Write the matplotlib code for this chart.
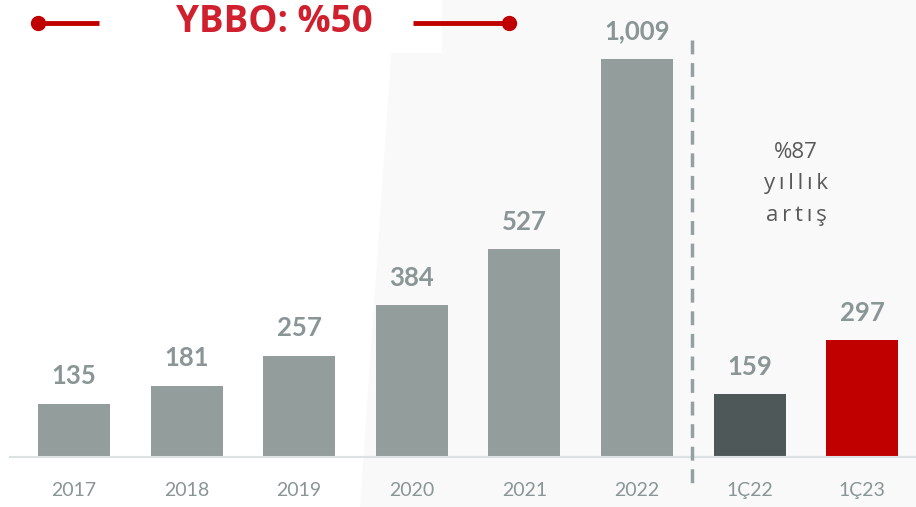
import matplotlib.pyplot as plt
from matplotlib.patches import Polygon, Rectangle

categories = ["2017", "2018", "2019", "2020", "2021", "2022", "1Ç22", "1Ç23"]
values = [135, 181, 257, 384, 527, 1009, 159, 297]
value_labels = ["135", "181", "257", "384", "527", "1,009", "159", "297"]
bar_colors = ["#929d9c"] * 6 + ["#4f5859", "#c00000"]
note_lines = ["%87", "y\u2009ı\u2009l\u2009l\u2009ı\u2009k", "a\u2009r\u2009t\u2009ı\u2009ş"]

W, H = 916, 507

plt.rcParams["font.family"] = ["Lato", "DejaVu Sans"]

fig = plt.figure(figsize=(W / 100, H / 100), dpi=100)
fig.patch.set_facecolor("white")

# light background panel on the right side
bg = fig.add_axes([0, 0, 1, 1], zorder=0)
bg.set_xlim(0, W)
bg.set_ylim(H, 0)
bg.axis("off")
bg.add_patch(Polygon([(395, 0), (W, 0), (W, H), (360, H)], closed=True,
                     facecolor="#f9f9f9", edgecolor="none"))
bg.add_patch(Rectangle((0, 0), 442, 53, facecolor="white", edgecolor="none"))

ax = fig.add_axes([0, 50 / H, 1, 457 / H], zorder=1)
ax.patch.set_alpha(0)
x = list(range(len(categories)))
ax.bar(x, values, width=0.64, color=bar_colors, zorder=2)
ax.set_xlim(-0.657, 7.478)
ax.set_ylim(0, 1158)
for s in ax.spines.values():
    s.set_visible(False)
ax.set_xticks([])
ax.set_yticks([])

for xi, v, lab in zip(x, values, value_labels):
    ax.annotate(lab, (xi, v), xytext=(0, 11), textcoords="offset points",
                ha="center", va="bottom", fontsize=18.5, fontweight="bold", color="#8a9595")

for xi, cat in zip(x, categories):
    ax.annotate(cat, (xi, 0), xytext=(0, -24), textcoords="offset points",
                ha="center", va="center", fontsize=14, color="#8a9595")

# overlay for lines and texts in pixel coords
ov = fig.add_axes([0, 0, 1, 1], zorder=2)
ov.set_xlim(0, W)
ov.set_ylim(H, 0)
ov.axis("off")
ov.patch.set_alpha(0)

# baseline
ov.plot([10, W], [457, 457], color="#dce1e1", lw=1.5)

# dashed divider
ov.plot([692, 692], [40, 484], color="#95a0a0", lw=2.5, linestyle=(0, (4, 2.5)))

# growth annotation
for i, t in enumerate(note_lines):
    ov.text(796, 153 + 31 * i, t, ha="center", va="center", fontsize=16,
            color="#595959", fontfamily=["Open Sans", "DejaVu Sans"])

# title with red lines
ov.text(274, 22, "YBBO: %50", ha="center", va="center", fontsize=26.5,
        fontweight="bold", color="#d0202e", fontfamily=["Open Sans", "DejaVu Sans"])
ov.plot([38, 99], [23, 23], color="#c00000", lw=3.5, solid_capstyle="butt")
ov.plot([413, 509], [23, 23], color="#c00000", lw=3.5, solid_capstyle="butt")
ov.plot([38, 509], [23, 23], linestyle="none", marker="o", markersize=10, color="#c00000")

fig.savefig("out.png", dpi=100)
